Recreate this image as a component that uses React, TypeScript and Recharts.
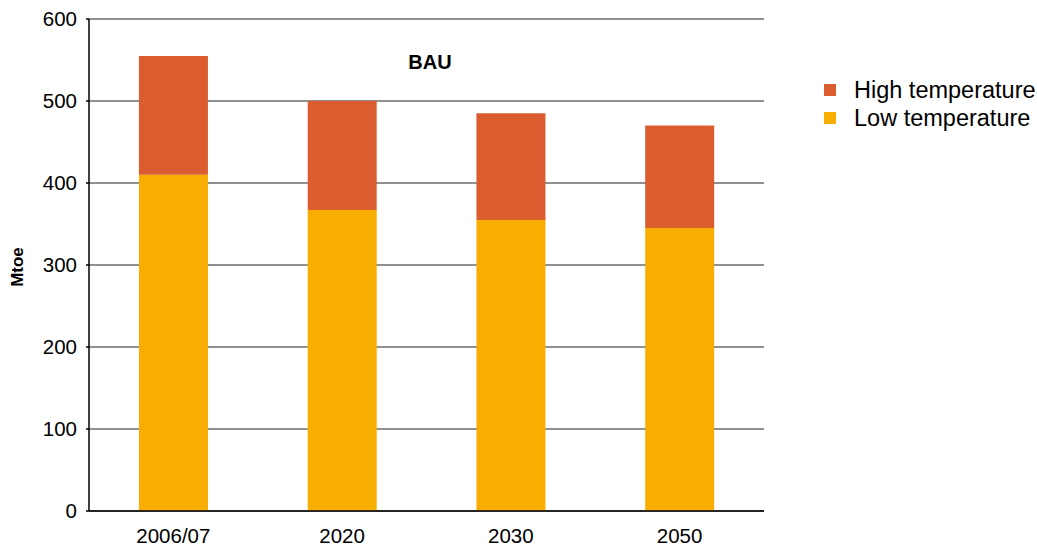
import { Bar, BarChart, CartesianGrid, XAxis, YAxis } from "recharts";

const categories = ["2006/07", "2020", "2030", "2050"];
const lowTemp = [410, 367, 355, 345];
const highTemp = [145, 133, 130, 125];
const yTicks = [0, 100, 200, 300, 400, 500, 600];
const edgeTicks = [0, 1, 2, 3, 4];

const HIGH = "#DB5C2F";
const LOW = "#F8AE00";
const FONT = "Arial, 'Liberation Sans', sans-serif";

const data = categories.map((label, i) => ({
  label,
  low: lowTemp[i],
  high: highTemp[i],
}));

const legendItems = [
  { name: "High temperature", color: HIGH },
  { name: "Low temperature", color: LOW },
];

export default function App() {
  return (
    <div style={{ position: "absolute", left: 0, top: 0, width: 1037, height: 547, fontFamily: FONT }}>
      <BarChart
        width={1037}
        height={547}
        data={data}
        margin={{ top: 19, right: 273, bottom: 0, left: 29 }}
        barCategoryGap="29.6%"
      >
        <CartesianGrid horizontal vertical={false} stroke="#6b6b6b" strokeWidth={1.5} />
        <XAxis
          xAxisId="edges"
          type="number"
          domain={[0, 4]}
          ticks={edgeTicks}
          height={0}
          axisLine={false}
          tickLine={{ stroke: "#000", strokeWidth: 1.5 }}
          tickSize={6}
          tickFormatter={() => ""}
        />
        <XAxis
          dataKey="label"
          height={36}
          axisLine={{ stroke: "#000", strokeWidth: 1.5 }}
          tickLine={false}
          tickSize={0}
          tickMargin={17}
          tick={{ fill: "#000", fontSize: 20.5, fontFamily: FONT }}
        />
        <YAxis
          width={60}
          domain={[0, 600]}
          ticks={yTicks}
          interval={0}
          axisLine={{ stroke: "#000", strokeWidth: 1.5 }}
          tickLine={{ stroke: "#000", strokeWidth: 1.5 }}
          tickSize={3}
          tickMargin={9}
          tick={{ fill: "#000", fontSize: 20.5, fontFamily: FONT }}
        />
        <Bar dataKey="low" stackId="a" fill={LOW} isAnimationActive={false} />
        <Bar dataKey="high" stackId="a" fill={HIGH} isAnimationActive={false} />
      </BarChart>

      <div
        style={{
          position: "absolute",
          left: 430,
          top: 62,
          transform: "translate(-50%, -50%)",
          fontWeight: "bold",
          fontSize: 20,
        }}
      >
        BAU
      </div>
      <div
        style={{
          position: "absolute",
          left: 18,
          top: 267,
          transform: "translate(-50%, -50%) rotate(-90deg)",
          fontWeight: "bold",
          fontSize: 17,
        }}
      >
        Mtoe
      </div>
      <div style={{ position: "absolute", left: 824, top: 76 }}>
        {legendItems.map((item) => (
          <div key={item.name} style={{ display: "flex", alignItems: "center", height: 28 }}>
            <span style={{ width: 12, height: 12, background: item.color, marginRight: 18 }} />
            <span style={{ fontSize: 23.5, color: "#000" }}>{item.name}</span>
          </div>
        ))}
      </div>
    </div>
  );
}
